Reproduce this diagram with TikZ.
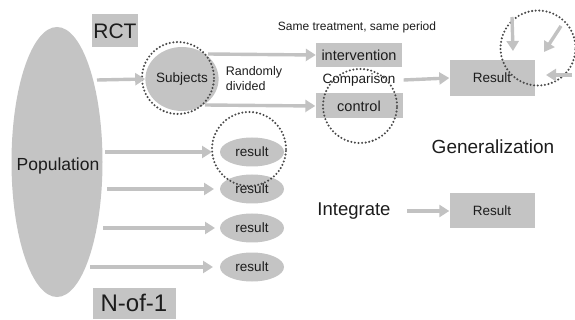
\documentclass[tikz,border=0pt]{standalone}
\usepackage{fontspec}
\setmainfont{Liberation Sans}
\usetikzlibrary{arrows.meta,shapes.geometric}
\definecolor{shade}{HTML}{C4C4C4}
\definecolor{ink}{HTML}{1C1C1C}
\definecolor{arr}{HTML}{C2C2C2}
\tikzset{
  grbox/.style={fill=shade, draw=none, inner sep=0pt, text=ink},
  grell/.style={ellipse, fill=shade, draw=none, inner sep=0pt, text=ink},
  lbl/.style={text=ink, inner sep=0pt},
  flow/.style={draw=arr, line width=3.4pt, -{Triangle[length=10pt,width=12pt]}},
  dotring/.style={circle, draw=ink!80, line width=2.3pt, line cap=round, dash pattern=on 0pt off 3.6pt, fill=none, inner sep=0pt}
}
\begin{document}
\begin{tikzpicture}[x=1pt,y=-1pt]
\useasboundingbox (0,0) rectangle (575,320);
% Population
\node[grell, minimum width=91pt, minimum height=270pt] (pop) at (57,162) {};
\node[lbl, font=\fontsize{17.5}{18}\selectfont] (poptxt) at (58,166) {Population};
% RCT label
\node[grbox, minimum width=46pt, minimum height=33pt, font=\fontsize{21}{22}\selectfont] (rct) at (115,31) {RCT};
% Subjects
\node[grell, minimum width=57pt, minimum height=64pt, font=\fontsize{13.5}{14}\selectfont] (subj) at (182,79) {Subjects};
\node[dotring, minimum size=72pt] (ring1) at (178,78) {};
\node[lbl, align=left, font=\fontsize{12.5}{15}\selectfont] (rand) at (254,79) {Randomly\\divided};
% Same treatment
\node[lbl, font=\fontsize{12}{13}\selectfont] (same) at (357,27) {Same treatment, same period};
% intervention / control
\node[grbox, minimum width=86pt, minimum height=24pt, font=\fontsize{14.5}{15}\selectfont] (int) at (359,55) {intervention};
\node[lbl, font=\fontsize{13.5}{14}\selectfont] (comp) at (359,80) {Comparison};
\node[grbox, minimum width=87pt, minimum height=25pt, font=\fontsize{14.5}{15}\selectfont] (ctrl) at (359,106) {control};
\node[dotring, minimum size=74pt] (ring2) at (360,106) {};
% Result (RCT)
\node[grbox, minimum width=85pt, minimum height=36pt, font=\fontsize{13.5}{14}\selectfont] (res1) at (492,78) {Result};
\node[dotring, minimum size=75pt] (ring3) at (538,48) {};
\coordinate (g1s) at (512,17);
\coordinate (g1e) at (513,51);
\coordinate (g2s) at (561,26);
\coordinate (g2e) at (544,52);
\coordinate (g3s) at (572,75);
\coordinate (g3e) at (546,75);
\draw[flow] (g1s) -- (g1e);
\draw[flow] (g2s) -- (g2e);
\draw[flow] (g3s) -- (g3e);
\node[lbl, font=\fontsize{19}{20}\selectfont] (gen) at (493,147) {Generalization};
% arrows RCT
\draw[flow] (97,80) -- (subj.west);
\draw[flow] (208,54) -- (int.west);
\draw[flow] (205,105) -- (ctrl.west);
\draw[flow] (comp.east) ++(8,0) coordinate (ca) (ca) -- (res1.west);
% N-of-1
\node[grell, minimum width=64pt, minimum height=29pt, font=\fontsize{13.5}{14}\selectfont] (r1) at (252,152) {result};
\node[grell, minimum width=64pt, minimum height=29pt, font=\fontsize{13.5}{14}\selectfont] (r2) at (252,189) {result};
\node[grell, minimum width=64pt, minimum height=29pt, font=\fontsize{13.5}{14}\selectfont] (r3) at (252,228) {result};
\node[grell, minimum width=64pt, minimum height=29pt, font=\fontsize{13.5}{14}\selectfont] (r4) at (252,267) {result};
\node[dotring, minimum size=74pt] (ring4) at (249,149) {};
\draw[flow] (105,152) -- (212,152);
\draw[flow] (107,189) -- (214,189);
\draw[flow] (103,228) -- (215,228);
\draw[flow] (90,267) -- (213,267);
\node[grbox, minimum width=83pt, minimum height=31pt, font=\fontsize{24}{25}\selectfont] (nof1) at (134,303) {N-of-1};
% Integrate
\node[lbl, font=\fontsize{18.5}{19}\selectfont] (integ) at (354,211) {Integrate};
\node[grbox, minimum width=85pt, minimum height=35pt, font=\fontsize{13.5}{14}\selectfont] (res2) at (492,211) {Result};
\draw[flow] (407,211) -- (res2.west);
\end{tikzpicture}
\end{document}
